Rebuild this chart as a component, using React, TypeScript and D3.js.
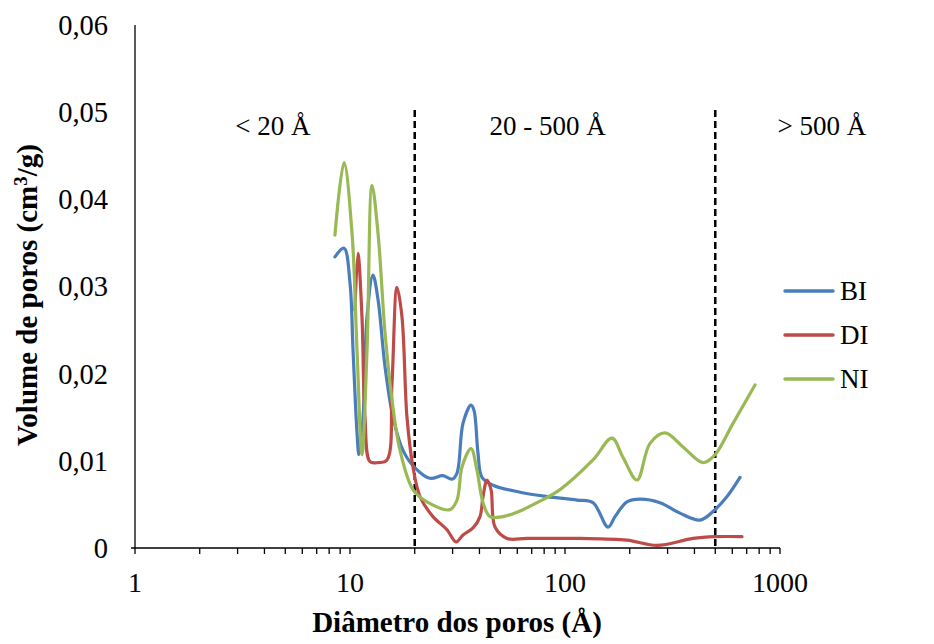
import React from "react";
import * as d3 from "d3";

// Pore size distribution: pore diameter (Å, log scale) vs pore volume (cm³/g)
const biDiameter = [8.51, 9.38, 10.0, 10.33, 10.78, 11.01, 11.5, 12.0, 12.79, 13.5, 14.55, 15.85, 17.64, 20.06, 23.56, 27.08, 29.82, 31.46, 33.54, 36.54, 37.73, 39.38, 41.11, 46.26, 61.76, 82.5, 113.7, 134.9, 158.5, 170.9, 194.2, 223.3, 276.6, 342.6, 424.6, 498.6, 567, 651.6];
const biVolume = [0.0334, 0.0344, 0.0304, 0.0227, 0.0132, 0.0107, 0.015, 0.0265, 0.0313, 0.0285, 0.0208, 0.015, 0.0112, 0.0092, 0.008, 0.0083, 0.0079, 0.0086, 0.0143, 0.0164, 0.0158, 0.0109, 0.0081, 0.0072, 0.0064, 0.0059, 0.0055, 0.0052, 0.0024, 0.0036, 0.0053, 0.0056, 0.0052, 0.004, 0.0032, 0.0044, 0.0059, 0.0081];

const diDiameter = [10.55, 10.89, 11.37, 11.74, 12.39, 13.5, 14.86, 15.68, 16.54, 17.45, 18.41, 19.63, 21.17, 24.32, 28.26, 31.12, 33.54, 37.34, 40.25, 41.56, 43.38, 45.28, 47.26, 53.73, 66.6, 117.4, 194.2, 267.9, 393.9, 498.6, 665.8];
const diVolume = [0.0273, 0.0338, 0.0265, 0.015, 0.0099, 0.0098, 0.0101, 0.0189, 0.0299, 0.0265, 0.015, 0.0093, 0.0059, 0.0036, 0.0021, 0.0007, 0.0015, 0.0023, 0.0036, 0.0059, 0.0078, 0.0067, 0.0024, 0.0011, 0.0011, 0.0011, 0.0009, 0.0003, 0.0011, 0.0013, 0.0013];

const niDiameter = [8.51, 9.38, 10.22, 10.78, 11.37, 12.0, 12.66, 13.5, 14.55, 15.68, 17.08, 19.63, 22.81, 29.18, 31.46, 33.19, 36.54, 38.96, 41.56, 44.79, 51.46, 59.8, 74.1, 94.8, 134.9, 165.4, 186.1, 216.2, 248.5, 291.9, 353.8, 438.4, 498.6, 604.6, 765.0];
const niVolume = [0.0359, 0.0442, 0.0361, 0.0227, 0.0107, 0.0227, 0.0416, 0.0361, 0.0247, 0.017, 0.0112, 0.0067, 0.0053, 0.0044, 0.0055, 0.0093, 0.0114, 0.0089, 0.0052, 0.0036, 0.0036, 0.0041, 0.0052, 0.0067, 0.0101, 0.0126, 0.0104, 0.0078, 0.012, 0.0132, 0.0116, 0.0098, 0.0107, 0.0143, 0.0187];

const seriesNames = ["BI", "DI", "NI"];
const seriesColors = ["#4a7ebb", "#be4b48", "#98b954"];

const yTicks = [0, 0.01, 0.02, 0.03, 0.04, 0.05, 0.06];
const xTickLabels = [1, 10, 100, 1000];
const regionBounds = [20, 500];
const regionLabels = ["< 20 Å", "20 - 500 Å", "> 500 Å"];
const regionLabelX = [4.38, 83, 1567];

export default function App() {
  const W = 934;
  const H = 644;
  const x = d3.scaleLog().domain([1, 1000]).range([135, 780]);
  const y = d3.scaleLinear().domain([0, 0.06]).range([548, 25]);

  const series = [
    { d: biDiameter, v: biVolume },
    { d: diDiameter, v: diVolume },
    { d: niDiameter, v: niVolume },
  ];

  const line = d3
    .line<[number, number]>()
    .x((p) => x(p[0]))
    .y((p) => y(p[1]))
    .curve(d3.curveCatmullRom.alpha(0.5));

  // minor + major ticks on the log axis: 1..9 in every decade, plus 1000
  const xTicks: number[] = [];
  for (let dec = 1; dec < 1000; dec *= 10) {
    for (let k = 1; k < 10; k++) xTicks.push(dec * k);
  }
  xTicks.push(1000);

  const font = "'Liberation Serif', 'Times New Roman', serif";
  const fmt = (v: number) => (v === 0 ? "0" : v.toFixed(2).replace(".", ","));

  return (
    <svg
      width={W}
      height={H}
      style={{ position: "absolute", left: 0, top: 0, background: "#fff" }}
      fontFamily={font}
    >
      {/* axes */}
      <line x1={x(1)} x2={x(1)} y1={y(0.06)} y2={y(0)} stroke="#000" strokeWidth={1.3} />
      <line x1={x(1) - 4} x2={x(1000)} y1={y(0)} y2={y(0)} stroke="#000" strokeWidth={1.3} />
      {xTicks.map((t) => (
        <line key={t} x1={x(t)} x2={x(t)} y1={y(0)} y2={y(0) + 6} stroke="#000" strokeWidth={1.3} />
      ))}

      {yTicks.map((t) => (
        <text key={t} x={108} y={y(t)} dy="0.35em" textAnchor="end" fontSize={28.5} fill="#000">
          {fmt(t)}
        </text>
      ))}
      {xTickLabels.map((t) => (
        <text key={t} x={x(t)} y={592} textAnchor="middle" fontSize={28} fill="#000">
          {t}
        </text>
      ))}

      {/* region boundaries */}
      {regionBounds.map((b) => (
        <line
          key={b}
          x1={x(b)}
          x2={x(b)}
          y1={110}
          y2={y(0)}
          stroke="#000"
          strokeWidth={2.5}
          strokeDasharray="7,4"
        />
      ))}
      {regionLabels.map((lab, i) => (
        <text key={lab} x={x(regionLabelX[i])} y={135} textAnchor="middle" fontSize={27} fill="#000">
          {lab}
        </text>
      ))}

      {/* series */}
      {series.map((s, i) => (
        <path
          key={seriesNames[i]}
          d={line(s.d.map((d, j) => [d, s.v[j]] as [number, number])) || ""}
          fill="none"
          stroke={seriesColors[i]}
          strokeWidth={3.2}
          strokeLinejoin="round"
          strokeLinecap="round"
        />
      ))}

      {/* legend */}
      {seriesNames.map((n, i) => (
        <g key={n} transform={`translate(785, ${291 + i * 44})`}>
          <line x1={0} x2={48} y1={0} y2={0} stroke={seriesColors[i]} strokeWidth={3.4} strokeLinecap="round" />
          <text x={55} y={0} dy="0.35em" fontSize={27} fill="#000">
            {n}
          </text>
        </g>
      ))}

      {/* axis titles */}
      <text x={457} y={632} textAnchor="middle" fontSize={29} fontWeight="bold" fill="#000">
        Diâmetro dos poros (Å)
      </text>
      <text
        transform="translate(37, 295) rotate(-90)"
        textAnchor="middle"
        fontSize={29}
        fontWeight="bold"
        fill="#000"
      >
        Volume de poros (cm<tspan dy={-10} fontSize={19}>3</tspan>
        <tspan dy={10}>/g)</tspan>
      </text>
    </svg>
  );
}
